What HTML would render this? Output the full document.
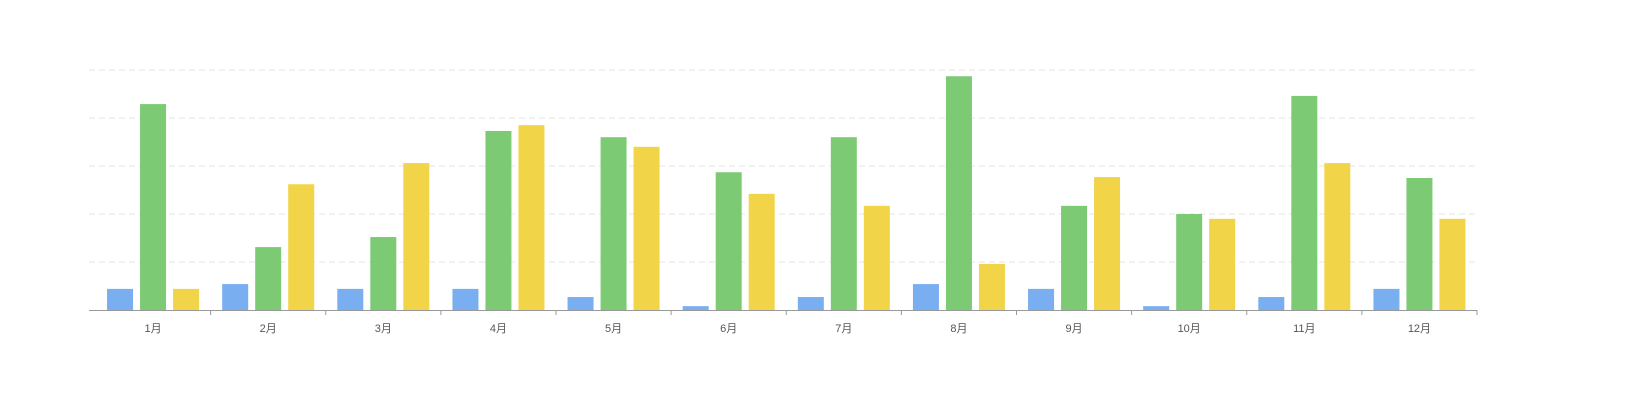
<!DOCTYPE html>
<html><head><meta charset="utf-8"><style>
body{margin:0;background:#fff;}
svg text{font-family:"Liberation Sans","Noto Sans CJK SC",sans-serif;font-size:11px;fill:#555;}
</style></head><body>
<svg id="chart" width="1630" height="400" xmlns="http://www.w3.org/2000/svg"></svg>
<script>
const categories=["1月","2月","3月","4月","5月","6月","7月","8月","9月","10月","11月","12月"];
const seriesBlue=[4.4,5.4,4.4,4.4,2.7,0.8,2.7,5.4,4.4,0.8,2.7,4.4];
const seriesGreen=[42.9,13.1,15.2,37.3,36,28.7,36,48.7,21.7,20,44.6,27.5];
const seriesYellow=[4.4,26.2,30.6,38.5,34,24.2,21.7,9.6,27.7,19,30.6,19];
const gridValues=[10,20,30,40,50];
const svg=document.getElementById('chart');
const NS='http://www.w3.org/2000/svg';
const x0=95.5,x1=1477,left=89,baseY=310,pxPerUnit=4.8;
const band=(x1-x0)/categories.length;
const y=v=>baseY-v*pxPerUnit;
const xc=i=>x0+band*(i+0.5);
function mk(tag,attrs){const e=document.createElementNS(NS,tag);for(const k in attrs)e.setAttribute(k,attrs[k]);svg.appendChild(e);return e;}
gridValues.forEach(v=>{
  const l=mk('line',{x1:left,x2:x1,y1:y(v),y2:y(v),stroke:'#e6e6e6','stroke-dasharray':'6,4'});
  
  
});
const series=[[seriesBlue,'#79aef0',-46,'blue'],[seriesGreen,'#7dca75',-13,'green'],[seriesYellow,'#f2d448',20,'yellow']];
categories.forEach((c,i)=>{
  series.forEach(([arr,col,off,nm])=>{
    const r=mk('rect',{x:xc(i)+off,y:y(arr[i]),width:26,height:baseY-y(arr[i]),fill:col});
    
    
  });
  const t=mk('text',{x:xc(i),y:332,'text-anchor':'middle'});
  t.textContent=c;
  
  
  const tk=mk('line',{x1:x0+band*(i+1),x2:x0+band*(i+1),y1:baseY,y2:baseY+5,stroke:'#999'});
  
  
});
const ax=mk('line',{x1:left,x2:x1,y1:baseY+0.5,y2:baseY+0.5,stroke:'#999'});


</script>
</body></html>
